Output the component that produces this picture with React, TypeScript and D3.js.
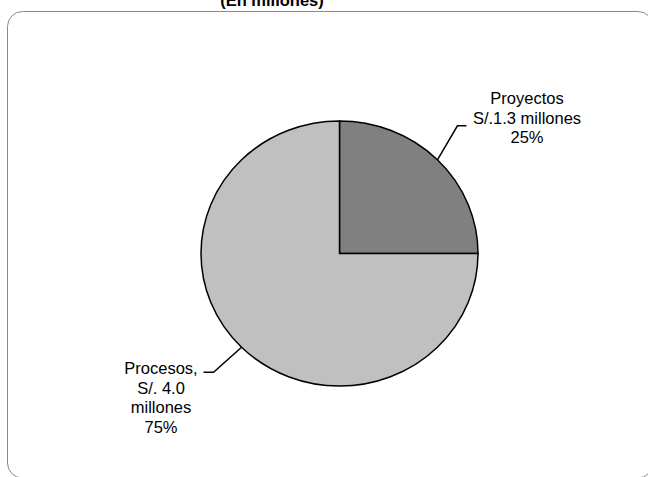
import * as d3 from 'd3';

// slice data
const categories = ['Proyectos', 'Procesos,'];
const amounts = [['S/.1.3 millones'], ['S/. 4.0', 'millones']];
const percents = [25, 75];
const colors = ['#808080', '#c0c0c0'];

const W = 648;
const H = 477;
const cx = 339.5;
const cy = 253.5;
const R = 138.5;
const squash = 132.5 / 138.5; // pie is drawn slightly flattened

export default function App() {
  const pie = d3.pie<number>().sort(null).value(d => d);
  const arcs = pie(percents);
  const arc = d3.arc<d3.PieArcDatum<number>>().innerRadius(0).outerRadius(R);

  // leader line geometry per slice: elbow offset from rim point, horizontal run, text anchor
  const leaders = [
    { elbow: [20, -34], run: 9, text: [527, 104] },
    { elbow: [-28, 25], run: -10, text: [161, 374] },
  ];

  const rimPoint = (a: d3.PieArcDatum<number>) => {
    const mid = (a.startAngle + a.endAngle) / 2;
    return [cx + Math.sin(mid) * R, cy - Math.cos(mid) * R * squash];
  };

  return (
    <svg
      width={W}
      height={H}
      style={{ position: 'absolute', left: 0, top: 0, background: '#fff' }}
      fontFamily="Arial, 'Liberation Sans', sans-serif"
    >
      <text x={272} y={6} textAnchor="middle" fontSize={16.5} fontWeight="bold" fill="#000">
        (En millones)
      </text>
      <rect x={7.5} y={11.5} width={645.5} height={466.5} rx={15} ry={15} fill="none" stroke="#8a8a8a" strokeWidth={1} />

      <g transform={`translate(${cx},${cy}) scale(1,${squash})`}>
        {arcs.map((a, i) => (
          <path
            key={categories[i]}
            d={arc(a) ?? ''}
            fill={colors[i]}
            stroke="#000"
            strokeWidth={1.5}
            vectorEffect="non-scaling-stroke"
          />
        ))}
      </g>

      {arcs.map((a, i) => {
        const [x0, y0] = rimPoint(a);
        const lp = leaders[i];
        const x1 = x0 + lp.elbow[0];
        const y1 = y0 + lp.elbow[1];
        const x2 = x1 + lp.run;
        const lines = [categories[i], ...amounts[i], `${percents[i]}%`];
        return (
          <g key={`lbl-${categories[i]}`}>
            <polyline
              points={`${x0},${y0} ${x1},${y1} ${x2},${y1}`}
              fill="none"
              stroke="#000"
              strokeWidth={1.5}
            />
            <text x={lp.text[0]} y={lp.text[1]} textAnchor="middle" fontSize={16.5} fill="#000">
              {lines.map((line, j) => (
                <tspan key={j} x={lp.text[0]} dy={j === 0 ? 0 : 19.7}>
                  {line}
                </tspan>
              ))}
            </text>
          </g>
        );
      })}
    </svg>
  );
}
